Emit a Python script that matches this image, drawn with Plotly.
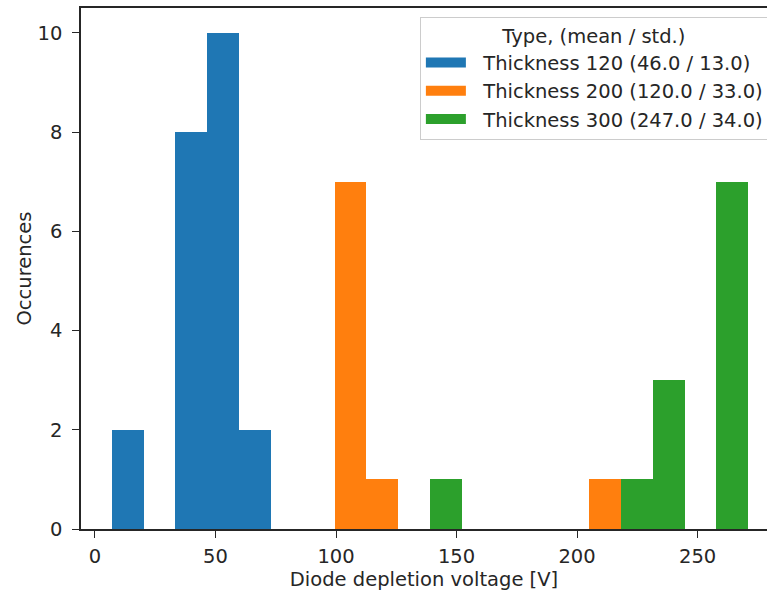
import plotly.graph_objects as go

# Histogram binning (20 equal bins)
BIN_START = 7.0
BIN_WIDTH = 13.2

names = [
    "Thickness 120 (46.0 / 13.0)",
    "Thickness 200 (120.0 / 33.0)",
    "Thickness 300 (247.0 / 34.0)",
]
colors = ["#1f77b4", "#ff7f0e", "#2ca02c"]

counts_120 = [2, 0, 8, 10, 2, 0, 0, 0, 0, 0, 0, 0, 0, 0, 0, 0, 0, 0, 0, 0]
counts_200 = [0, 0, 0, 0, 0, 0, 0, 7, 1, 0, 0, 0, 0, 0, 0, 1, 0, 0, 0, 0]
counts_300 = [0, 0, 0, 0, 0, 0, 0, 0, 0, 0, 1, 0, 0, 0, 0, 0, 1, 3, 0, 7]

x_ticks = [0, 50, 100, 150, 200, 250]
y_ticks = [0, 2, 4, 6, 8, 10]

FONT = "DejaVu Sans"
FS = 19.5
DARK = "#262626"
NB = "\u00a0"

fig = go.Figure()
for counts, name, color in zip([counts_120, counts_200, counts_300], names, colors):
    centers = [BIN_START + BIN_WIDTH * (i + 0.5) for i in range(len(counts))]
    fig.add_trace(go.Bar(
        x=centers, y=counts, width=BIN_WIDTH,
        marker=dict(color=color, line=dict(width=0)),
        name=name, showlegend=False,
    ))
# legend patches
for name, color in zip(names, colors):
    fig.add_trace(go.Scatter(
        x=[None], y=[None], mode="lines",
        line=dict(color=color, width=14),
        name=NB * 2 + name, showlegend=True,
    ))

fig.update_layout(
    width=767, height=591,
    margin=dict(l=81, r=0, t=8, b=62, autoexpand=False),
    paper_bgcolor="white", plot_bgcolor="white",
    barmode="overlay", bargap=0,
    font=dict(family=FONT, size=FS, color=DARK),
    showlegend=True,
    legend=dict(
        x=0.494, y=0.983, xanchor="left", yanchor="top",
        bgcolor="rgba(255,255,255,0.9)",
        bordercolor="#cccccc", borderwidth=1,
        font=dict(family=FONT, size=FS, color=DARK),
        title=dict(text="Type, (mean / std.)", side="top center",
                   font=dict(family=FONT, size=FS, color=DARK)),
        itemwidth=40,
    ),
)
fig.update_xaxes(
    range=[-5.8, 278.8], tickmode="array", tickvals=x_ticks,
    ticks="outside", ticklen=7, tickwidth=1.3, tickcolor=DARK,
    showline=True, linecolor=DARK, linewidth=1.5, mirror=True,
    showgrid=False, zeroline=False, ticklabelstandoff=2,
    title=dict(text="Diode depletion voltage [V]", standoff=4,
               font=dict(family=FONT, size=FS, color=DARK)),
)
fig.update_yaxes(
    range=[0, 10.5], tickmode="array", tickvals=y_ticks,
    ticks="outside", ticklen=7, tickwidth=1.3, tickcolor=DARK,
    showline=True, linecolor=DARK, linewidth=1.5, mirror=False,
    showgrid=False, zeroline=False, ticklabelstandoff=6,
    title=dict(text="Occurences", standoff=1,
               font=dict(family=FONT, size=FS, color=DARK)),
)

fig.write_html("out.html")
